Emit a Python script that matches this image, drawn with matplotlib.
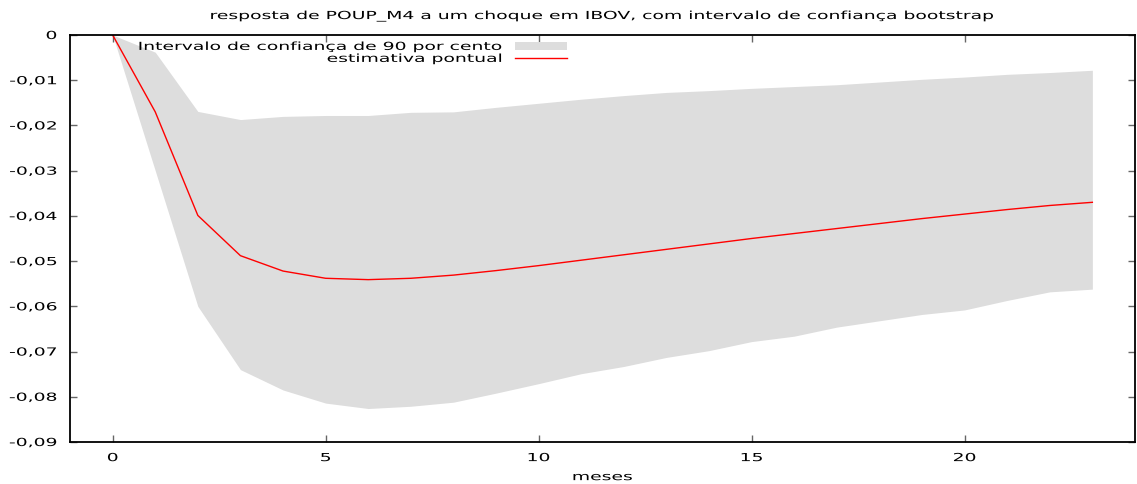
import matplotlib
matplotlib.use("Agg")
import matplotlib.pyplot as plt
from matplotlib.patches import Patch
from matplotlib.lines import Line2D
from matplotlib.ticker import FuncFormatter
from matplotlib.patheffects import AbstractPathEffect
from matplotlib.transforms import Affine2D

meses = list(range(24))
estimativa = [0.0, -0.0170, -0.0399, -0.0488, -0.0522, -0.0538, -0.0541, -0.0538,
              -0.0531, -0.0521, -0.0510, -0.0498, -0.0486, -0.0474, -0.0462, -0.0450,
              -0.0439, -0.0428, -0.0417, -0.0406, -0.0396, -0.0386, -0.0377, -0.0370]
superior = [0.0, -0.0038, -0.0169, -0.0187, -0.0180, -0.0178, -0.0178, -0.0171,
            -0.0170, -0.0160, -0.0151, -0.0142, -0.0134, -0.0127, -0.0123, -0.0118,
            -0.0114, -0.0110, -0.0104, -0.0098, -0.0093, -0.0087, -0.0083, -0.0078]
inferior = [0.0, -0.0300, -0.0600, -0.0740, -0.0785, -0.0814, -0.0826, -0.0821,
            -0.0812, -0.0792, -0.0771, -0.0749, -0.0733, -0.0713, -0.0698, -0.0678,
            -0.0666, -0.0646, -0.0632, -0.0618, -0.0608, -0.0587, -0.0568, -0.0562]
x_ticks = [0, 5, 10, 15, 20]
y_ticks = [0, -0.01, -0.02, -0.03, -0.04, -0.05, -0.06, -0.07, -0.08, -0.09]

titulo = "resposta de POUP_M4 a um choque em IBOV, com intervalo de confiança bootstrap"
rotulo_banda = "Intervalo de confiança de 90 por cento"
rotulo_linha = "estimativa pontual"
rotulo_x = "meses"

FS = 8
K = 1.69


class Stretch(AbstractPathEffect):
    """Draw text horizontally widened about a pivot (left/center/right)."""
    def __init__(self, k, ha):
        super().__init__()
        self.k = k
        self.ha = ha

    def draw_path(self, renderer, gc, tpath, affine, rgbFace=None):
        ext = tpath.get_extents()
        if self.ha == 'right':
            p = ext.x1
        elif self.ha == 'center':
            p = 0.5 * (ext.x0 + ext.x1)
        else:
            p = 0.0
        tr = Affine2D().translate(-p, 0).scale(self.k, 1).translate(p, 0) + affine
        renderer.draw_path(gc, tpath, tr, rgbFace)


plt.rcParams['font.family'] = ['DejaVu Sans']
plt.rcParams['font.size'] = FS

fig = plt.figure(figsize=(11.37, 4.84), dpi=100)
ax = fig.add_axes([0.0616, 0.0868, 0.9366, 0.8409])

ax.fill_between(meses, inferior, superior, color='#dddddd', linewidth=0)
ax.plot(meses, estimativa, color='#ff0000', linewidth=1.0)

ax.set_xlim(-1, 24)
ax.set_ylim(-0.09, 0)
ax.set_xticks(x_ticks)
ax.set_yticks(y_ticks)


def fmt(v, pos):
    if abs(v) < 1e-12:
        return "0"
    return ("%.2f" % v).replace(".", ",")


ax.yaxis.set_major_formatter(FuncFormatter(fmt))
ax.tick_params(direction='in', top=True, right=True, length=5, width=1,
               color='#666666', labelsize=FS)
ax.tick_params(axis='y', pad=9.5)
ax.tick_params(axis='x', pad=8)
for s in ax.spines.values():
    s.set_linewidth(1.3)
    s.set_color('black')

t = ax.set_title(titulo, fontsize=FS, pad=11.5)
t.set_path_effects([Stretch(K, 'center')])
xl = ax.set_xlabel(rotulo_x, fontsize=FS, labelpad=6.5)
xl.set_path_effects([Stretch(K, 'center')])

for lab in ax.get_yticklabels():
    lab.set_path_effects([Stretch(K, 'right')])
for lab in ax.get_xticklabels():
    lab.set_path_effects([Stretch(K, 'center')])

handles = [Patch(facecolor='#dddddd', edgecolor='none'),
           Line2D([0], [0], color='#ff0000', linewidth=1.0)]
leg = ax.legend(handles, [rotulo_banda, rotulo_linha], loc='upper right',
                bbox_to_anchor=(0.4667, 0.983), frameon=False, markerfirst=False,
                handlelength=4.7, handleheight=0.75, handletextpad=1.1,
                labelspacing=0.18, fontsize=FS, borderaxespad=0, borderpad=0)
for txt in leg.get_texts():
    txt.set_path_effects([Stretch(K, 'right')])

fig.savefig("out.png", dpi=100)
